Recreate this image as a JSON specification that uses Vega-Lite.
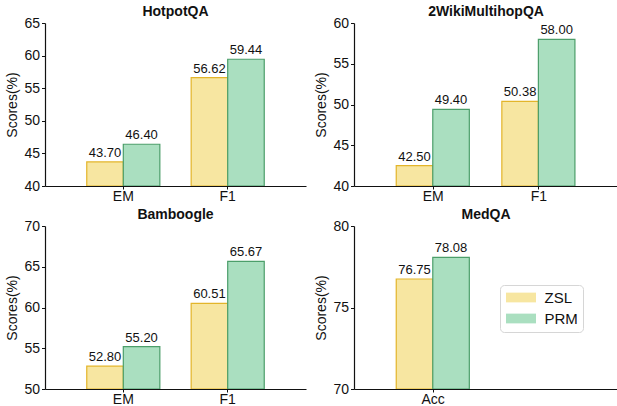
{
  "$schema": "https://vega.github.io/schema/vega-lite/v6.json",
  "padding": {"left": 5, "top": 5, "right": 0, "bottom": 0},
  "background": "white",
  "data": {"values": [
    {"dataset": "HotpotQA", "metric": "EM", "method": "ZSL", "score": 43.70},
    {"dataset": "HotpotQA", "metric": "EM", "method": "PRM", "score": 46.40},
    {"dataset": "HotpotQA", "metric": "F1", "method": "ZSL", "score": 56.62},
    {"dataset": "HotpotQA", "metric": "F1", "method": "PRM", "score": 59.44},
    {"dataset": "2WikiMultihopQA", "metric": "EM", "method": "ZSL", "score": 42.50},
    {"dataset": "2WikiMultihopQA", "metric": "EM", "method": "PRM", "score": 49.40},
    {"dataset": "2WikiMultihopQA", "metric": "F1", "method": "ZSL", "score": 50.38},
    {"dataset": "2WikiMultihopQA", "metric": "F1", "method": "PRM", "score": 58.00},
    {"dataset": "Bamboogle", "metric": "EM", "method": "ZSL", "score": 52.80},
    {"dataset": "Bamboogle", "metric": "EM", "method": "PRM", "score": 55.20},
    {"dataset": "Bamboogle", "metric": "F1", "method": "ZSL", "score": 60.51},
    {"dataset": "Bamboogle", "metric": "F1", "method": "PRM", "score": 65.67},
    {"dataset": "MedQA", "metric": "Acc", "method": "ZSL", "score": 76.75},
    {"dataset": "MedQA", "metric": "Acc", "method": "PRM", "score": 78.08}
  ]},
  "columns": 2,
  "spacing": {"row": 5, "column": 8},
  "resolve": {"scale": {"x": "independent", "y": "independent"}, "legend": {"fill": "independent", "stroke": "independent"}},
  "concat": [
    {
      "width": 261, "height": 163,
      "title": "HotpotQA",
      "transform": [{"filter": "datum.dataset == 'HotpotQA'"}],
      "encoding": {
        "x": {"field": "metric", "type": "nominal", "sort": ["EM", "F1"], "scale": {"paddingInner": 0.3, "paddingOuter": 0.4}, "axis": {"title": null, "labelAngle": 0}},
        "xOffset": {"field": "method", "type": "nominal", "sort": ["ZSL", "PRM"]},
        "y": {"field": "score", "type": "quantitative", "stack": null, "scale": {"domain": [40, 65], "zero": false, "nice": false}, "axis": {"title": "Scores(%)", "values": [40, 45, 50, 55, 60, 65]}}
      },
      "layer": [
        {"mark": {"type": "bar", "strokeWidth": 1.2, "clip": true},
         "encoding": {
           "fill": {"field": "method", "type": "nominal", "scale": {"domain": ["ZSL", "PRM"], "range": ["#f7e6a1", "#aadfc0"]}, "legend": null},
           "stroke": {"field": "method", "type": "nominal", "scale": {"domain": ["ZSL", "PRM"], "range": ["#e3b52a", "#4c9e6a"]}, "legend": null}
         }},
        {"mark": {"type": "text", "baseline": "bottom", "dy": -2, "fontSize": 13, "font": "Liberation Sans", "color": "#111"},
         "encoding": {"text": {"field": "score", "type": "quantitative", "format": ".2f"}}}
      ]
    },
    {
      "width": 264, "height": 163,
      "title": "2WikiMultihopQA",
      "transform": [{"filter": "datum.dataset == '2WikiMultihopQA'"}],
      "encoding": {
        "x": {"field": "metric", "type": "nominal", "sort": ["EM", "F1"], "scale": {"paddingInner": 0.3, "paddingOuter": 0.4}, "axis": {"title": null, "labelAngle": 0}},
        "xOffset": {"field": "method", "type": "nominal", "sort": ["ZSL", "PRM"]},
        "y": {"field": "score", "type": "quantitative", "stack": null, "scale": {"domain": [40, 60], "zero": false, "nice": false}, "axis": {"title": "Scores(%)", "values": [40, 45, 50, 55, 60]}}
      },
      "layer": [
        {"mark": {"type": "bar", "strokeWidth": 1.2, "clip": true},
         "encoding": {
           "fill": {"field": "method", "type": "nominal", "scale": {"domain": ["ZSL", "PRM"], "range": ["#f7e6a1", "#aadfc0"]}, "legend": null},
           "stroke": {"field": "method", "type": "nominal", "scale": {"domain": ["ZSL", "PRM"], "range": ["#e3b52a", "#4c9e6a"]}, "legend": null}
         }},
        {"mark": {"type": "text", "baseline": "bottom", "dy": -2, "fontSize": 13, "font": "Liberation Sans", "color": "#111"},
         "encoding": {"text": {"field": "score", "type": "quantitative", "format": ".2f"}}}
      ]
    },
    {
      "width": 261, "height": 163,
      "title": "Bamboogle",
      "transform": [{"filter": "datum.dataset == 'Bamboogle'"}],
      "encoding": {
        "x": {"field": "metric", "type": "nominal", "sort": ["EM", "F1"], "scale": {"paddingInner": 0.3, "paddingOuter": 0.4}, "axis": {"title": null, "labelAngle": 0}},
        "xOffset": {"field": "method", "type": "nominal", "sort": ["ZSL", "PRM"]},
        "y": {"field": "score", "type": "quantitative", "stack": null, "scale": {"domain": [50, 70], "zero": false, "nice": false}, "axis": {"title": "Scores(%)", "values": [50, 55, 60, 65, 70]}}
      },
      "layer": [
        {"mark": {"type": "bar", "strokeWidth": 1.2, "clip": true},
         "encoding": {
           "fill": {"field": "method", "type": "nominal", "scale": {"domain": ["ZSL", "PRM"], "range": ["#f7e6a1", "#aadfc0"]}, "legend": null},
           "stroke": {"field": "method", "type": "nominal", "scale": {"domain": ["ZSL", "PRM"], "range": ["#e3b52a", "#4c9e6a"]}, "legend": null}
         }},
        {"mark": {"type": "text", "baseline": "bottom", "dy": -2, "fontSize": 13, "font": "Liberation Sans", "color": "#111"},
         "encoding": {"text": {"field": "score", "type": "quantitative", "format": ".2f"}}}
      ]
    },
    {
      "width": 264, "height": 163,
      "title": "MedQA",
      "transform": [{"filter": "datum.dataset == 'MedQA'"}],
      "encoding": {
        "x": {"field": "metric", "type": "nominal", "scale": {"domain": ["Acc", "_"], "paddingInner": 0.3, "paddingOuter": 0.4}, "axis": {"title": null, "labelAngle": 0, "values": ["Acc"]}},
        "xOffset": {"field": "method", "type": "nominal", "sort": ["ZSL", "PRM"]},
        "y": {"field": "score", "type": "quantitative", "stack": null, "scale": {"domain": [70, 80], "zero": false, "nice": false}, "axis": {"title": "Scores(%)", "values": [70, 75, 80]}}
      },
      "layer": [
        {"mark": {"type": "bar", "strokeWidth": 1.2, "clip": true},
         "encoding": {
           "fill": {"field": "method", "type": "nominal", "sort": ["ZSL", "PRM"], "scale": {"domain": ["ZSL", "PRM"], "range": ["#f7e6a1", "#aadfc0"]},
             "legend": {"orient": "none", "legendX": 146, "legendY": 59, "title": null, "strokeColor": "#d6d6d6", "cornerRadius": 4, "padding": 5, "fillColor": "white", "labelFontSize": 15, "labelFont": "Liberation Sans", "labelColor": "#111", "symbolType": "M-2,-0.65H2V0.65H-2Z", "symbolSize": 225, "symbolStrokeWidth": 0, "symbolOffset": 8.5, "rowPadding": 5, "labelOffset": 16}},
           "stroke": {"field": "method", "type": "nominal", "scale": {"domain": ["ZSL", "PRM"], "range": ["#e3b52a", "#4c9e6a"]}, "legend": null}
         }},
        {"mark": {"type": "text", "baseline": "bottom", "dy": -2, "fontSize": 13, "font": "Liberation Sans", "color": "#111"},
         "encoding": {"text": {"field": "score", "type": "quantitative", "format": ".2f"}}}
      ]
    }
  ],
  "config": {
    "view": {"stroke": null},
    "font": "Liberation Sans",
    "title": {"fontSize": 14, "fontWeight": "bold", "font": "Liberation Sans", "color": "#111", "offset": -3, "anchor": "middle"},
    "axis": {"grid": false, "domainColor": "#111", "tickColor": "#111", "labelColor": "#111", "titleColor": "#111", "labelFont": "Liberation Sans", "titleFont": "Liberation Sans", "labelFontSize": 14, "titleFontSize": 14, "titleFontWeight": "normal", "tickSize": 3.5, "labelPadding": 2, "domainWidth": 1.2, "tickWidth": 1},
    "axisX": {"tickSize": 3, "labelPadding": 0},
    "axisY": {"titlePadding": 4}
  }
}
